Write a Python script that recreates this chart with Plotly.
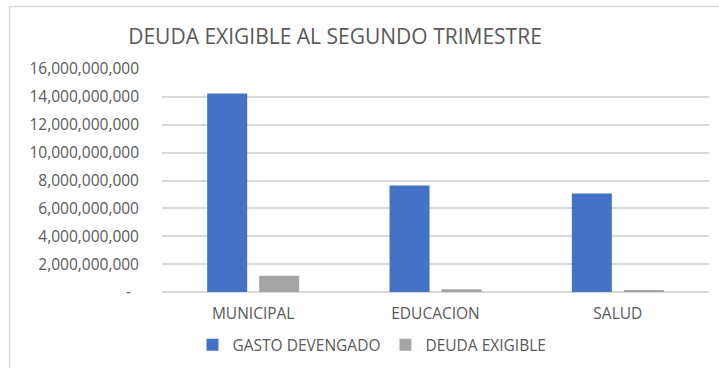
import plotly.graph_objects as go

categories = ["MUNICIPAL", "EDUCACION", "SALUD"]
gasto_devengado = [14_240_000_000, 7_640_000_000, 7_070_000_000]
deuda_exigible = [1_160_000_000, 190_000_000, 100_000_000]

tick_vals = [0, 2e9, 4e9, 6e9, 8e9, 10e9, 12e9, 14e9, 16e9]
tick_text = ["-  "] + [f"{int(v):,}" for v in tick_vals[1:]]

TEXT = "#595959"
FONT = "Open Sans"
LABEL_SIZE = 15.5

W, H = 719, 368
L, R = 162, 709          # plot area, px
T, B = 69.3, 292

fig = go.Figure()
fig.add_trace(go.Bar(name="GASTO DEVENGADO", x=categories, y=gasto_devengado,
                     marker=dict(color="#4472C4", line=dict(width=0))))
fig.add_trace(go.Bar(name="DEUDA EXIGIBLE", x=categories, y=deuda_exigible,
                     marker=dict(color="#A5A5A5", line=dict(width=0))))

def px_x(p):
    return (p - L) / (R - L)

def px_y(p):
    return (B - p) / (B - T)

fig.update_layout(
    width=W, height=H,
    margin=dict(l=L, r=W - R, t=T, b=H - B, pad=0, autoexpand=False),
    paper_bgcolor="white", plot_bgcolor="white",
    barmode="group", bargap=0.43, bargroupgap=0.23,
    font=dict(family=FONT, color=TEXT, size=LABEL_SIZE),
    showlegend=True,
    legend=dict(orientation="h", x=px_x(372), xanchor="center",
                y=px_y(345), yanchor="middle",
                font=dict(size=LABEL_SIZE, color=TEXT), itemwidth=30,
                traceorder="normal"),
    title=dict(text="DEUDA EXIGIBLE AL SEGUNDO TRIMESTRE",
               x=335 / W, xanchor="center", y=1 - 37 / H, yanchor="middle",
               font=dict(size=21, color=TEXT, family=FONT)),
    shapes=[
        dict(type="line", xref="paper", yref="paper",
             x0=px_x(9.5), x1=px_x(9.5), y0=px_y(7), y1=px_y(370),
             line=dict(color="#D9D9D9", width=1.5)),
        dict(type="line", xref="paper", yref="paper",
             x0=px_x(9.5), x1=px_x(725), y0=px_y(7), y1=px_y(7),
             line=dict(color="#D9D9D9", width=1.5)),
    ],
)
fig.update_xaxes(showgrid=False, showline=False, ticks="", automargin=False,
                 tickfont=dict(size=LABEL_SIZE, color=TEXT), ticklabelstandoff=10)
fig.update_yaxes(range=[0, 16e9], tickvals=tick_vals, ticktext=tick_text,
                 showgrid=True, gridcolor="#D9D9D9", gridwidth=1.5,
                 zeroline=True, zerolinecolor="#D9D9D9", zerolinewidth=1.5,
                 showline=False, ticks="", ticklabelstandoff=22, automargin=False,
                 tickfont=dict(size=LABEL_SIZE, color=TEXT))

fig.write_html("out.html")
